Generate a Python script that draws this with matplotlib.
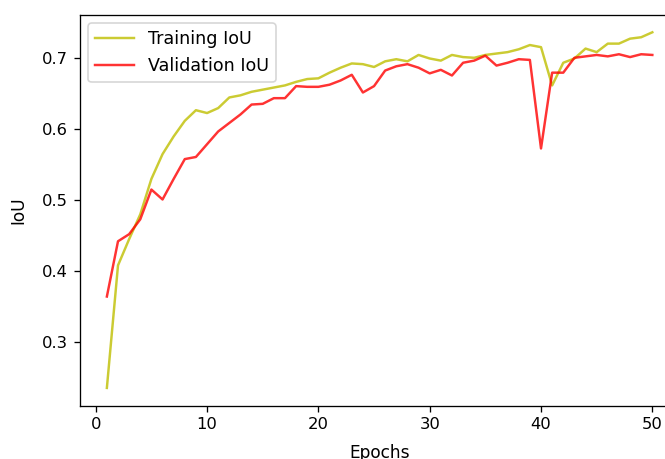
import numpy as np
import matplotlib
matplotlib.use("Agg")
import matplotlib.pyplot as plt

# IoU per epoch
epochs = np.arange(1, 51)

train_iou = [0.235, 0.408, 0.445, 0.480, 0.530, 0.565, 0.590, 0.612, 0.627, 0.623,
             0.630, 0.645, 0.648, 0.653, 0.656, 0.659, 0.662, 0.667, 0.671, 0.672,
             0.680, 0.687, 0.693, 0.692, 0.688, 0.696, 0.699, 0.696, 0.705, 0.700,
             0.697, 0.705, 0.702, 0.701, 0.705, 0.707, 0.709, 0.713, 0.719, 0.716,
             0.662, 0.694, 0.700, 0.714, 0.709, 0.721, 0.721, 0.728, 0.730, 0.737]

val_iou = [0.364, 0.442, 0.452, 0.473, 0.515, 0.501, 0.530, 0.558, 0.561, 0.579,
           0.597, 0.609, 0.621, 0.635, 0.636, 0.644, 0.644, 0.661, 0.660, 0.660,
           0.663, 0.669, 0.677, 0.652, 0.661, 0.683, 0.689, 0.692, 0.687, 0.679,
           0.684, 0.676, 0.694, 0.697, 0.704, 0.690, 0.694, 0.699, 0.698, 0.573,
           0.680, 0.680, 0.701, 0.703, 0.705, 0.703, 0.706, 0.702, 0.706, 0.705]

dpi = 118
fig = plt.figure(figsize=(665 / dpi, 459 / dpi), dpi=dpi)
# the reference is cropped on the right, so the axes run past the figure edge
ax = fig.add_axes([79.6 / 665, 53.3 / 459, 600.0 / 665, 391.2 / 459])

ax.plot(epochs, train_iou, color='y', alpha=0.8, label='Training IoU')
ax.plot(epochs, val_iou, color='r', alpha=0.8, label='Validation IoU')

ax.set_xlabel('Epochs', fontsize=10.4, labelpad=7.5)
ax.set_ylabel('IoU', fontsize=10.4, labelpad=9)
ax.legend(loc='upper left', fontsize=10.7, handlelength=2.2)

fig.savefig('out.png', dpi=dpi)
